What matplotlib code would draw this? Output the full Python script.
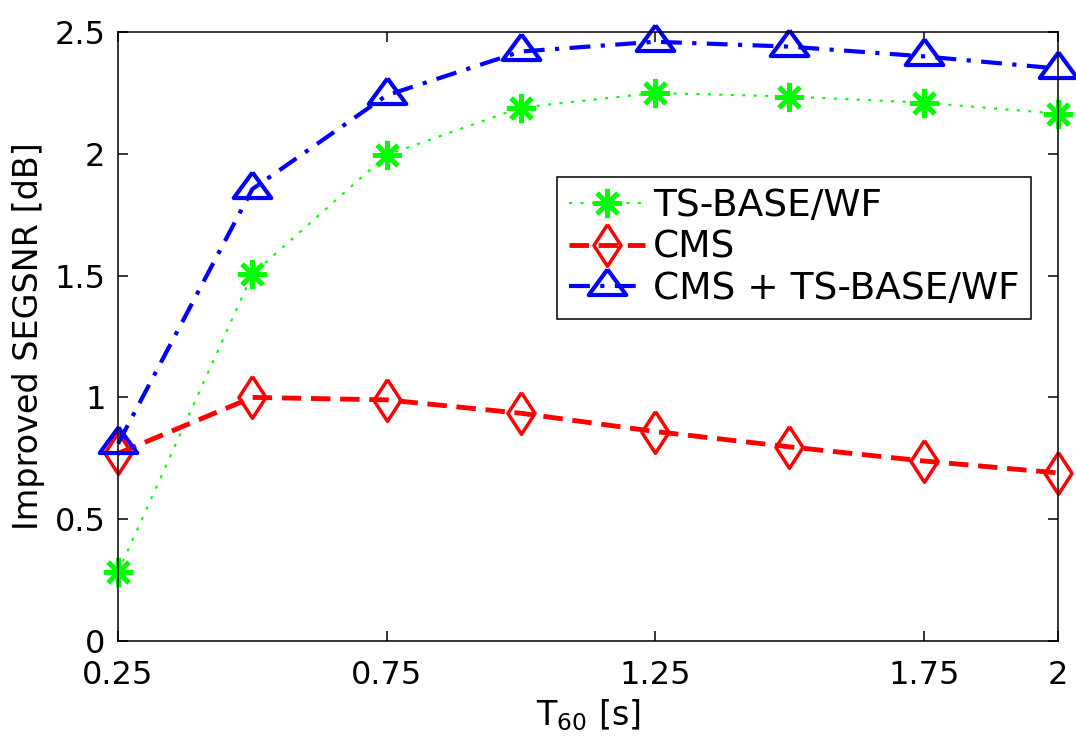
import numpy as np
import matplotlib
matplotlib.use("Agg")
import matplotlib.pyplot as plt

t60 = [0.25, 0.5, 0.75, 1.0, 1.25, 1.5, 1.75, 2.0]
ts_base_wf = [0.283, 1.505, 1.995, 2.19, 2.25, 2.235, 2.21, 2.165]
cms = [0.77, 1.0, 0.99, 0.935, 0.86, 0.797, 0.739, 0.69]
cms_ts_base_wf = [0.81, 1.855, 2.24, 2.42, 2.46, 2.44, 2.40, 2.35]

xticks = [0.25, 0.75, 1.25, 1.75, 2]
xtick_labels = ["0.25", "0.75", "1.25", "1.75", "2"]
yticks = [0, 0.5, 1, 1.5, 2, 2.5]
ytick_labels = ["0", "0.5", "1", "1.5", "2", "2.5"]

plt.rcParams["font.family"] = "DejaVu Sans"
plt.rcParams["mathtext.default"] = "regular"

# MATLAB-like markers: tall diamond, triangle centred on its centroid
diamond = [(0, 1), (0.65, 0), (0, -1), (-0.65, 0), (0, 1)]
triangle = [(0, 1), (-1.1, -0.5), (1.1, -0.5), (0, 1)]

fig = plt.figure(figsize=(10.76, 7.53), dpi=100)
ax = fig.add_axes([0.1097, 0.1487, 0.8736, 0.8088])

ax.plot(t60, ts_base_wf, color=(0, 1, 0), lw=1.5, linestyle=(0, (1.5, 4)),
        marker=(8, 2, 0), ms=21, mew=3.5, clip_on=False, label="TS-BASE/WF")
ax.plot(t60, cms, color=(1, 0, 0), lw=3.5, linestyle=(0, (4, 2)),
        marker=diamond, ms=30, mew=2.5, mfc="none", clip_on=False, label="CMS")
ax.plot(t60, cms_ts_base_wf, color=(0, 0, 1), lw=3, linestyle=(0, (5, 2.5, 1, 2.5)),
        marker=triangle, ms=27, mew=3, mfc="none", clip_on=False,
        label="CMS + TS-BASE/WF")

ax.set_xlim(0.25, 2)
ax.set_ylim(0, 2.5)
ax.set_xticks(xticks)
ax.set_xticklabels(xtick_labels)
ax.set_yticks(yticks)
ax.set_yticklabels(ytick_labels)
ax.tick_params(direction="in", length=7, width=1.1, labelsize=23,
               top=True, right=True)
ax.tick_params(axis="x", pad=14)
ax.tick_params(axis="y", pad=9)
for s in ax.spines.values():
    s.set_linewidth(1.1)

ax.set_xlabel("T$_{60}$ [s]", fontsize=24, labelpad=4)
ax.set_ylabel("Improved SEGSNR [dB]", fontsize=24, labelpad=7)

leg = ax.legend(loc="upper right", bbox_to_anchor=(0.958, 0.765),
                bbox_transform=fig.transFigure, borderaxespad=0,
                fontsize=27, fancybox=False, framealpha=1, edgecolor="black",
                handlelength=2.05, handletextpad=0.2, labelspacing=0.15,
                borderpad=0.3)
leg.get_frame().set_linewidth(1.1)

fig.savefig("out.png", dpi=100)
